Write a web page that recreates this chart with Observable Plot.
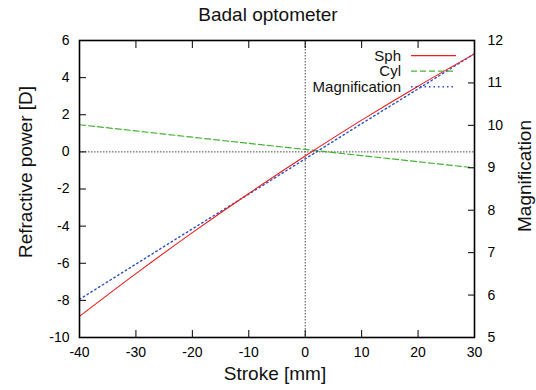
<!DOCTYPE html>
<html><head><meta charset="utf-8">
<script src="https://cdn.jsdelivr.net/npm/d3@7"></script>
<script src="https://cdn.jsdelivr.net/npm/@observablehq/plot@0.6"></script>
<style>
body{margin:0;background:#fff;font-family:"Liberation Sans",Arial,sans-serif;}
#title{width:536px;height:30px;text-align:center;font-size:19px;line-height:30px;padding-left:0;box-sizing:border-box;color:#111;}
#wrap{width:536px;}
</style></head>
<body>
<div id="wrap"><div id="title">Badal optometer</div><div id="chart"></div></div>
<script>
const strokes = [-40, -30, -20, -10, 0, 10, 20, 30];
const sph = [-8.86, -6.56, -4.35, -2.24, -0.22, 1.71, 3.54, 5.28];
const cyl = [1.46, 1.13, 0.79, 0.46, 0.13, -0.20, -0.53, -0.86];
const mag = [5.90, 6.73, 7.56, 8.38, 9.21, 10.04, 10.86, 11.69];
const xTicks = [-40, -30, -20, -10, 0, 10, 20, 30];
const yTicks = [-10, -8, -6, -4, -2, 0, 2, 4, 6];
const magTicks = [5, 6, 7, 8, 9, 10, 11, 12];
const seriesNames = ["Sph", "Cyl", "Magnification"];
const seriesColors = ["#ee1c1c", "#44b234", "#2a4fc4"];
const seriesDash = [null, "6,3", "1.5,3"];

const yDom = [-10, 6], mDom = [5, 12];
const toLeft = m => yDom[0] + (m - mDom[0]) * (yDom[1] - yDom[0]) / (mDom[1] - mDom[0]);
const fromLeft = v => mDom[0] + (v - yDom[0]) * (mDom[1] - mDom[0]) / (yDom[1] - yDom[0]);

const rows = strokes.map((s, i) => ({s, sph: sph[i], cyl: cyl[i], mag: mag[i]}));
const font = '"Liberation Sans", Arial, sans-serif';
const fmt = d => String(d);

const chart = Plot.plot({
  width: 536, height: 360,
  marginTop: 10, marginBottom: 53, marginLeft: 79, marginRight: 62,
  style: {fontFamily: font, fontSize: "14px", color: "#000", background: "#fff"},
  x: {domain: [-40, 30], label: null},
  y: {domain: yDom, label: null},
  marks: [
    Plot.ruleY([0], {stroke: "#444", strokeDasharray: "1.5,1.5", strokeWidth: 1}),
    Plot.ruleX([0], {stroke: "#444", strokeDasharray: "1.5,1.5", strokeWidth: 1}),
    Plot.line(rows, {x: "s", y: "cyl", stroke: seriesColors[1], strokeWidth: 1.2, strokeDasharray: seriesDash[1], curve: "monotone-x"}),
    Plot.line(rows, {x: "s", y: d => toLeft(d.mag), stroke: seriesColors[2], strokeWidth: 1.4, strokeDasharray: seriesDash[2], curve: "monotone-x"}),
    Plot.line(rows, {x: "s", y: "sph", stroke: seriesColors[0], strokeWidth: 1.1, curve: "monotone-x"}),
    Plot.axisX(xTicks, {anchor: "bottom", tickSize: -7, text: null, label: null, stroke: "#000"}),
    Plot.axisX(xTicks, {anchor: "top", tickSize: -7, text: null, label: null, stroke: "#000"}),
    Plot.axisX(xTicks, {anchor: "bottom", tickSize: 0, tickPadding: 10, label: null, fontSize: 14, tickFormat: fmt}),
    Plot.axisY(yTicks, {anchor: "left", tickSize: -7, text: null, label: null, stroke: "#000"}),
    Plot.axisY(yTicks, {anchor: "left", tickSize: 0, tickPadding: 10, label: null, fontSize: 14, tickFormat: fmt}),
    Plot.axisY(magTicks.map(toLeft), {anchor: "right", tickSize: -7, text: null, label: null, stroke: "#000"}),
    Plot.axisY(magTicks.map(toLeft), {anchor: "right", tickSize: 0, tickPadding: 13, label: null, fontSize: 14, tickFormat: v => String(Math.round(fromLeft(v)))}),
    Plot.frame({stroke: "#000", strokeWidth: 1.6}),
    Plot.text(["Refractive power [D]"], {frameAnchor: "left", textAnchor: "middle", lineAnchor: "middle", dx: -54, dy: -17, rotate: -90, fontSize: 19, fill: "#111"}),
    Plot.text(["Magnification"], {frameAnchor: "right", textAnchor: "middle", lineAnchor: "middle", dx: 50, dy: -13, rotate: -90, fontSize: 19, fill: "#111"}),
    Plot.text(["Stroke [mm]"], {frameAnchor: "bottom", dx: -2, dy: 42, fontSize: 19, fill: "#111"})
  ]
});
document.getElementById("chart").appendChild(chart);

// legend inside the plot area (top-right)
const xr = chart.scale("x").range, yr = chart.scale("y").range;
const plotRight = Math.max(...xr), plotTop = Math.min(...yr);
const svgSel = d3.select(chart);
const lg = svgSel.append("g").attr("font-family", font).attr("font-size", 15);
seriesNames.forEach((name, i) => {
  const yy = plotTop + 15.7 + i * 15.5;
  lg.append("text").attr("x", plotRight - 73).attr("y", yy + 5).attr("text-anchor", "end").attr("fill", "#111").text(name);
  const ln = lg.append("line").attr("x1", plotRight - 63).attr("x2", plotRight - 18).attr("y1", yy).attr("y2", yy)
    .attr("stroke", seriesColors[i]).attr("stroke-width", i === 2 ? 1.4 : 1.2);
  if (seriesDash[i]) ln.attr("stroke-dasharray", seriesDash[i]);
});
</script>
</body></html>
